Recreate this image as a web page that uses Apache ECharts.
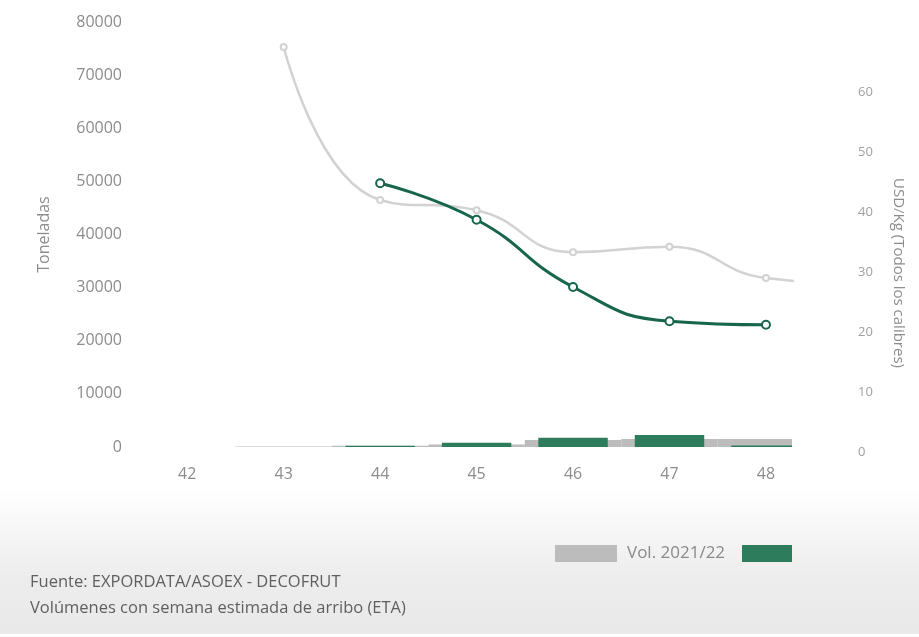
<!DOCTYPE html>
<html>
<head>
<meta charset="utf-8">
<script src="https://cdn.jsdelivr.net/npm/echarts@6/dist/echarts.min.js"></script>
<style>
  html, body { margin: 0; padding: 0; background: #ffffff; }
  #chart { width: 919px; height: 637px; }
</style>
</head>
<body>
<div id="chart"></div>
<script>
// Semanas de arribo (ETA)
const weeks = [42, 43, 44, 45, 46, 47, 48];

// Volúmenes (toneladas)
const volWeeks2122 = [43, 44, 45, 46, 47, 48];
const vol2122 = [80, 250, 450, 1300, 1500, 1500];
const volWeeks2223 = [44, 45, 46, 47, 48];
const vol2223 = [250, 800, 1750, 2250, 300];

// Precios USD/Kg (todos los calibres)
const priceWeeks2122 = [43, 44, 45, 46, 47, 48, 49];
const price2122 = [67.5, 42, 40.3, 33.3, 34.2, 29, 28];
const priceWeeks2223 = [44, 45, 46, 47, 48];
const price2223 = [44.8, 38.7, 27.5, 21.8, 21.2];

const leftTicks = [0, 10000, 20000, 30000, 40000, 50000, 60000, 70000, 80000];
const rightTicks = [0, 10, 20, 30, 40, 50, 60];

const pair = (xs, ys) => xs.map((x, i) => [x, ys[i]]);

const X_MIN = 41.5, X_MAX = 48.27;
const FONT = '"Open Sans", "Noto Sans", sans-serif';

// Bars drawn in axis units and clipped to the plotting area
function clippedBar(widthInWeeks, color) {
  return function (params, api) {
    const x = api.value(0), y = api.value(1);
    const top = api.coord([x, y]);
    const base = api.coord([x, 0]);
    const w = api.size([widthInWeeks, 0])[0];
    const cs = params.coordSys;
    const shape = echarts.graphic.clipRectByRect(
      { x: top[0] - w / 2, y: top[1], width: w, height: base[1] - top[1] },
      { x: cs.x, y: cs.y, width: cs.width, height: cs.height }
    );
    return shape && { type: 'rect', shape, style: { fill: color } };
  };
}

const chart = echarts.init(document.getElementById('chart'), null, { renderer: 'canvas' });

chart.setOption({
  animation: false,
  backgroundColor: '#ffffff',
  graphic: [
    {
      type: 'rect', z: -10, silent: true,
      shape: { x: 0, y: 488, width: 919, height: 146 },
      style: {
        fill: new echarts.graphic.LinearGradient(0, 0, 0, 1, [
          { offset: 0, color: '#ffffff' },
          { offset: 0.6, color: '#ededed' },
          { offset: 1, color: '#e9e9e9' }
        ])
      }
    },
    {
      type: 'text', left: 30, top: 574,
      style: { text: 'Fuente: EXPORDATA/ASOEX - DECOFRUT', fontSize: 16.5, fontFamily: FONT, fill: '#5f5f5f' }
    },
    {
      type: 'text', left: 30, top: 600,
      style: { text: 'Volúmenes con semana estimada de arribo (ETA)', fontSize: 16.5, fontFamily: FONT, fill: '#5f5f5f' }
    }
  ],
  legend: [
    {
      data: ['Vol. 2021/22'], left: 555, top: 545, padding: 0, icon: 'rect',
      itemWidth: 62, itemHeight: 17, selectedMode: false,
      textStyle: { fontSize: 17, fontFamily: FONT, color: '#8a8a8a', padding: [0, 0, 0, 5] }
    },
    {
      data: ['Vol. 2022/23'], left: 742, top: 545, padding: 0, icon: 'rect',
      itemWidth: 50, itemHeight: 17, selectedMode: false,
      formatter: () => ''
    }
  ],
  grid: [
    { left: 139, right: 127, top: 22, bottom: 190 },
    { left: 139, right: 127, top: 32, bottom: 185 }
  ],
  xAxis: [
    {
      type: 'value', gridIndex: 0, min: X_MIN, max: X_MAX,
      axisLine: { show: false }, axisTick: { show: false }, splitLine: { show: false },
      axisLabel: { customValues: weeks, margin: 19, fontSize: 16, fontFamily: FONT, color: '#8c8c8c' }
    },
    { type: 'value', gridIndex: 1, min: X_MIN, max: X_MAX, show: false }
  ],
  yAxis: [
    {
      type: 'value', gridIndex: 0, min: 0, max: 80000, interval: 10000,
      name: 'Toneladas', nameLocation: 'middle', nameRotate: 90, nameGap: 87,
      nameTextStyle: { fontSize: 16, fontFamily: FONT, color: '#8c8c8c' },
      axisLine: { show: false }, axisTick: { show: false }, splitLine: { show: false },
      axisLabel: {
        customValues: leftTicks, margin: 17, fontSize: 16, fontFamily: FONT, color: '#8c8c8c',
        formatter: (v) => String(v)
      }
    },
    {
      type: 'value', gridIndex: 1, position: 'right', min: 0, max: 70, interval: 10,
      name: 'USD/Kg (Todos los calibres)', nameLocation: 'middle', nameRotate: -90, nameGap: 99,
      nameTextStyle: { fontSize: 15, fontFamily: FONT, color: '#8c8c8c', padding: [0, 0, 0, 62] },
      axisLine: { show: false }, axisTick: { show: false }, splitLine: { show: false },
      axisLabel: { customValues: rightTicks, margin: 66, fontSize: 13, fontFamily: FONT, color: '#a0a0a0' }
    }
  ],
  series: [
    {
      name: 'Vol. 2021/22', type: 'custom', xAxisIndex: 0, yAxisIndex: 0, z: 1,
      itemStyle: { color: '#bcbcbc' },
      encode: { x: 0, y: 1 },
      renderItem: clippedBar(1.0, '#bcbcbc'),
      data: pair(volWeeks2122, vol2122)
    },
    {
      name: 'Vol. 2022/23', type: 'custom', xAxisIndex: 0, yAxisIndex: 0, z: 2,
      itemStyle: { color: '#2d7d5d' },
      encode: { x: 0, y: 1 },
      renderItem: clippedBar(0.72, '#2d7d5d'),
      data: pair(volWeeks2223, vol2223)
    },
    {
      name: 'USD/Kg 2021/22', type: 'line', xAxisIndex: 1, yAxisIndex: 1,
      smooth: 0.5, clip: true, z: 3,
      symbol: 'emptyCircle', symbolSize: 6, showAllSymbol: true,
      lineStyle: { color: '#d2d2d2', width: 2.5 },
      itemStyle: { color: '#d2d2d2', borderWidth: 1.5 },
      data: pair(priceWeeks2122, price2122)
    },
    {
      name: 'USD/Kg 2022/23', type: 'line', xAxisIndex: 1, yAxisIndex: 1,
      smooth: 0.5, clip: true, z: 4,
      symbol: 'emptyCircle', symbolSize: 8,
      lineStyle: { color: '#17654a', width: 3 },
      itemStyle: { color: '#17654a', borderWidth: 2 },
      data: pair(priceWeeks2223, price2223)
    }
  ]
});
</script>
</body>
</html>
